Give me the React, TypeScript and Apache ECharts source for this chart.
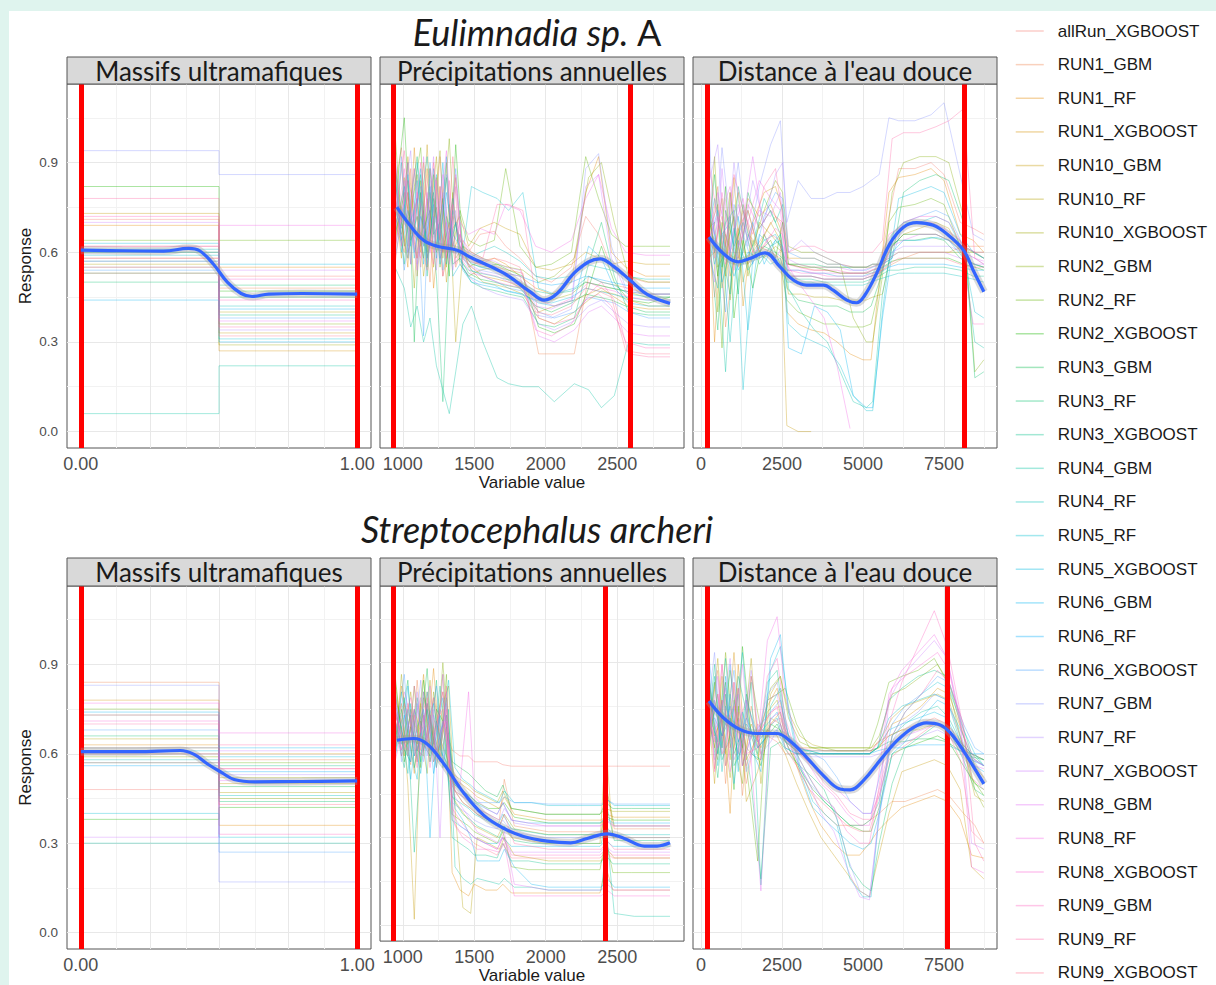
import React, { useEffect, useRef } from "react";
import * as echarts from "echarts";

// ---------- categories ----------
const RUNS = [
  "allRun_XGBOOST", "RUN1_GBM", "RUN1_RF", "RUN1_XGBOOST", "RUN10_GBM", "RUN10_RF", "RUN10_XGBOOST",
  "RUN2_GBM", "RUN2_RF", "RUN2_XGBOOST", "RUN3_GBM", "RUN3_RF", "RUN3_XGBOOST", "RUN4_GBM", "RUN4_RF",
  "RUN5_RF", "RUN5_XGBOOST", "RUN6_GBM", "RUN6_RF", "RUN6_XGBOOST", "RUN7_GBM", "RUN7_RF", "RUN7_XGBOOST",
  "RUN8_GBM", "RUN8_RF", "RUN8_XGBOOST", "RUN9_GBM", "RUN9_RF", "RUN9_XGBOOST",
];
const SPECIES = ["Eulimnadia sp.", "Streptocephalus archeri"];
const VARIABLES = ["Massifs ultramafiques", "Précipitations annuelles", "Distance à l'eau douce"];

// ---------- Massifs ultramafiques (binary variable) ----------
const massifX = [0, 0.5, 1];
const massifLeftA = [.71, .62, .69, .58, .73, .56, .55, .60, .64, .82, .53, .50, .57, .06, .61, .59, .63, .44, .60, .54, .94, .57, .70, .55, .62, .58, .72, .78, .53];
const massifRightA = [.52, .48, .55, .27, .33, .40, .29, .36, .64, .47, .45, .49, .39, .22, .42, .31, .56, .30, .41, .38, .86, .34, .54, .37, .69, .51, .44, .35, .32];
const massifLeftS = [.48, .84, .63, .78, .73, .65, .60, .59, .75, .38, .62, .66, .57, .30, .58, .40, .61, .74, .56, .68, .83, .73, .32, .60, .77, .71, .62, .70, .57];
const massifRightS = [.55, .58, .36, .60, .50, .47, .52, .45, .57, .42, .49, .44, .56, .30, .46, .32, .59, .62, .54, .27, .17, .53, .61, .51, .67, .55, .33, .63, .43];
const massifSmoothXA = [0, .15, .3, .39, .43, .48, .53, .58, .62, .68, .8, 1];
const massifSmoothYA = [.607, .605, .604, .613, .605, .56, .50, .462, .452, .46, .462, .46];
const massifSmoothXS = [0, .2, .36, .41, .46, .51, .555, .63, .8, 1];
const massifSmoothYS = [.607, .607, .611, .598, .565, .537, .514, .506, .507, .509];

// ---------- Précipitations annuelles ----------
// even-numbered runs are sampled on the first x list, odd-numbered runs on the second
const precXA = [945, 990, 1035, 1080, 1125, 1170, 1215, 1260, 1305, 1350, 1400, 1460, 1540, 1640, 1720, 1820, 1930, 2040, 2180, 2280, 2370, 2460, 2560, 2700, 2870];
const precXA2 = [945, 1010, 1055, 1100, 1145, 1190, 1235, 1280, 1325, 1370, 1420, 1480, 1560, 1660, 1740, 1840, 1950, 2060, 2200, 2300, 2390, 2480, 2580, 2720, 2870];
const precRunsA = [
  [.82, .95, .62, .88, .55, .78, .66, .92, .58, .72, .64, .60, .66, .67, .62, .58, .52, .50, .55, .72, .66, .55, .52, .50, .50],
  [.70, .60, .88, .52, .74, .50, .85, .60, .70, .55, .62, .58, .56, .55, .54, .53, .26, .26, .26, .52, .50, .49, .48, .46, .46],
  [.90, .72, .55, .95, .62, .88, .48, .70, .90, .60, .66, .55, .57, .58, .56, .52, .48, .46, .50, .80, .92, .60, .55, .52, .52],
  [.64, .80, .70, .58, .90, .66, .75, .52, .62, .85, .58, .55, .52, .51, .50, .48, .40, .42, .44, .46, .48, .45, .42, .41, .41],
  [.78, .58, .92, .70, .60, .96, .55, .82, .50, .68, .72, .62, .68, .70, .68, .66, .55, .54, .56, .60, .58, .56, .57, .56, .56],
  [.60, .85, .66, .78, .52, .70, .92, .58, .76, .30, .60, .54, .50, .49, .48, .46, .38, .36, .40, .44, .47, .46, .44, .42, .42],
  [.72, .66, .80, .48, .84, .58, .70, .94, .55, .80, .56, .52, .54, .55, .52, .50, .45, .44, .46, .50, .49, .48, .47, .45, .45],
  [.88, .62, .74, .86, .64, .80, .60, .72, .98, .58, .62, .60, .58, .56, .55, .54, .50, .52, .58, .85, .90, .70, .52, .50, .50],
  [1.0, .70, .58, .82, .95, .60, .86, .55, .72, .62, .74, .64, .62, .64, .88, .62, .55, .56, .60, .92, .78, .66, .62, .62, .62],
  [.76, 1.05, .64, .72, .58, .88, .62, .78, .52, .96, .60, .56, .55, .56, .54, .52, .35, .33, .36, .48, .62, .50, .44, .43, .45],
  [.66, .74, .90, .30, .80, .55, .78, .64, .85, .56, .58, .53, .51, .50, .49, .48, .42, .40, .43, .46, .45, .44, .42, .40, .40],
  [.85, .56, .78, .92, .68, .74, .52, .10, .60, .70, .55, .50, .48, .47, .46, .45, .36, .35, .38, .56, .70, .52, .40, .39, .39],
  [.62, .90, .60, .68, .86, .52, .80, .58, .66, .78, .57, .54, .53, .52, .51, .50, .47, .46, .47, .50, .49, .48, .47, .46, .46],
  [.55, .48, .35, .42, .30, .38, .22, .14, .06, .20, .36, .42, .30, .18, .16, .15, .15, .10, .16, .14, .08, .12, .30, .29, .29],
  [.80, .64, .84, .58, .76, .92, .66, .70, .56, .74, .64, .58, .60, .62, .60, .57, .52, .51, .52, .56, .55, .54, .52, .51, .51],
  [.68, .82, .56, .90, .62, .72, .86, .54, .68, .60, .60, .82, .80, .78, .74, .80, .48, .46, .48, .52, .50, .49, .46, .45, .45],
  [.92, .60, .74, .66, .88, .58, .76, .62, .92, .52, .56, .52, .50, .49, .47, .46, .44, .43, .45, .48, .47, .46, .45, .44, .44],
  [.58, .76, .62, .84, .56, .82, .58, .90, .60, .70, .54, .50, .49, .48, .47, .46, .43, .42, .44, .62, .58, .48, .43, .42, .42],
  [.74, .68, .86, .60, .72, .64, .88, .56, .80, .66, .62, .57, .55, .54, .53, .52, .50, .49, .50, .52, .51, .50, .49, .48, .48],
  [.86, .54, .70, .78, .32, .90, .62, .76, .58, .88, .58, .54, .52, .50, .48, .47, .40, .38, .40, .45, .44, .43, .40, .38, .38],
  [.70, .92, .58, .74, .82, .56, .72, .66, .86, .60, .60, .56, .54, .53, .52, .50, .39, .38, .41, .88, .93, .62, .48, .46, .46],
  [.62, .78, .94, .56, .70, .84, .54, .80, .62, .74, .55, .51, .48, .46, .45, .44, .36, .34, .37, .42, .44, .40, .36, .35, .35],
  [.94, .66, .60, .88, .64, .70, .92, .58, .70, .54, .66, .60, .58, .57, .55, .54, .42, .41, .44, .82, .86, .58, .47, .46, .46],
  [.60, .84, .72, .54, .92, .62, .68, .86, .56, .82, .58, .55, .53, .52, .50, .49, .32, .30, .34, .40, .42, .38, .33, .32, .32],
  [.78, .70, .90, .64, .58, .80, .60, .74, .94, .62, .70, .66, .68, .66, .76, .74, .62, .60, .64, .78, .86, .68, .60, .59, .59],
  [.66, .88, .56, .80, .72, .60, .84, .52, .66, .86, .57, .53, .52, .50, .49, .48, .44, .42, .45, .50, .48, .47, .45, .44, .44],
  [.84, .62, .80, .70, .90, .66, .56, .82, .60, .76, .62, .58, .56, .55, .53, .52, .34, .32, .36, .44, .46, .42, .30, .28, .28],
  [.72, .94, .66, .58, .76, .88, .70, .60, .84, .56, .64, .60, .58, .76, .76, .74, .38, .36, .38, .46, .50, .44, .26, .25, .25],
  [.56, .72, .84, .76, .62, .54, .90, .68, .58, .92, .60, .57, .56, .58, .57, .55, .40, .39, .42, .48, .47, .45, .27, .26, .26],
];
const precSmoothXA = [958, 1050, 1145, 1240, 1380, 1470, 1710, 1890, 1990, 2080, 2220, 2380, 2480, 2590, 2710, 2870];
const precSmoothYA = [.751, .69, .64, .62, .607, .584, .529, .468, .44, .462, .54, .578, .551, .507, .459, .429];

const precXS = [945, 990, 1035, 1080, 1125, 1170, 1215, 1260, 1305, 1345, 1400, 1460, 1500, 1580, 1660, 1700, 1760, 1880, 2000, 2200, 2380, 2420, 2470, 2600, 2870];
const precXS2 = [945, 1010, 1055, 1100, 1145, 1190, 1235, 1280, 1320, 1365, 1420, 1475, 1520, 1600, 1675, 1710, 1780, 1900, 2020, 2220, 2390, 2430, 2480, 2620, 2870];
const precRunsS = [
  [.70, .60, .76, .58, .68, .80, .62, .74, .66, .60, .58, .58, .56, .56, .56, .55, .545, .545, .545, .545, .545, .545, .545, .545, .545],
  [.78, .66, .55, .84, .60, .72, .58, .86, .50, .46, .44, .42, .40, .38, .36, .50, .34, .33, .32, .32, .32, .45, .33, .33, .33],
  [.62, .82, .70, .52, .76, .64, .88, .60, .72, .18, .12, .10, .14, .12, .12, .14, .11, .11, .11, .11, .11, .20, .12, .12, .12],
  [.84, .58, .74, .66, .86, .56, .70, .80, .62, .50, .48, .46, .44, .42, .40, .44, .38, .37, .36, .36, .36, .38, .37, .37, .37],
  [.66, .76, .48, .02, .70, .62, .78, .56, .68, .44, .40, .36, .34, .32, .30, .34, .30, .29, .28, .28, .28, .63, .30, .30, .30],
  [.72, .64, .80, .60, .58, .84, .54, .76, .82, .40, .06, .04, .30, .28, .26, .30, .24, .23, .22, .22, .22, .26, .23, .23, .23],
  [.58, .86, .62, .74, .66, .52, .80, .64, .58, .52, .50, .48, .46, .44, .42, .46, .40, .39, .38, .38, .38, .40, .39, .39, .39],
  [.80, .62, .72, .56, .78, .70, .60, .90, .64, .46, .42, .40, .38, .36, .34, .38, .33, .32, .31, .31, .31, .46, .34, .34, .34],
  [.64, .74, .58, .82, .54, .76, .66, .58, .86, .38, .36, .34, .32, .30, .28, .32, .20, .19, .19, .19, .19, .30, .18, .18, .18],
  [.86, .56, .68, .62, .84, .60, .74, .70, .52, .48, .46, .44, .42, .40, .40, .42, .37, .36, .35, .35, .35, .37, .36, .36, .36],
  [.60, .70, .84, .54, .66, .88, .56, .62, .78, .56, .54, .52, .50, .46, .44, .48, .40, .39, .38, .38, .38, .42, .40, .40, .40],
  [.74, .60, .56, .78, .62, .58, .84, .54, .66, .42, .38, .36, .34, .32, .30, .34, .29, .28, .28, .28, .28, .40, .29, .29, .29],
  [.56, .80, .66, .25, .58, .74, .62, .82, .60, .30, .28, .26, .24, .24, .23, .28, .22, .22, .21, .21, .21, .24, .21, .21, .21],
  [.68, .54, .76, .60, .72, .56, .70, .58, .74, .20, .16, .14, .16, .15, .14, .16, .13, .13, .12, .12, .12, .30, .04, .03, .03],
  [.76, .68, .52, .74, .56, .80, .60, .72, .54, .44, .42, .40, .38, .36, .34, .38, .33, .32, .31, .31, .31, .34, .31, .31, .31],
  [.62, .78, .60, .50, .80, .66, .54, .68, .84, .54, .50, .48, .46, .44, .42, .46, .42, .42, .41, .41, .41, .43, .41, .41, .41],
  [.82, .58, .74, .64, .52, .70, .76, .60, .56, .36, .34, .32, .30, .28, .28, .30, .27, .27, .27, .27, .27, .29, .27, .27, .27],
  [.58, .72, .50, .68, .74, .30, .66, .78, .62, .40, .36, .30, .22, .22, .22, .26, .20, .14, .13, .13, .13, .16, .13, .13, .13],
  [.70, .62, .82, .58, .64, .76, .52, .66, .72, .50, .46, .44, .42, .40, .38, .42, .36, .35, .35, .35, .35, .37, .35, .35, .35],
  [.64, .86, .56, .76, .60, .68, .82, .56, .64, .48, .46, .44, .42, .42, .42, .44, .42, .42, .415, .415, .415, .43, .415, .415, .415],
  [.78, .56, .70, .62, .84, .58, .72, .64, .76, .42, .40, .38, .36, .34, .33, .36, .32, .31, .30, .30, .30, .33, .30, .30, .30],
  [.60, .74, .64, .80, .56, .72, .60, .86, .52, .46, .44, .42, .40, .38, .36, .40, .35, .34, .34, .34, .34, .36, .34, .34, .34],
  [.72, .66, .58, .70, .78, .62, .74, .30, .80, .38, .34, .32, .30, .28, .26, .30, .25, .25, .25, .25, .25, .27, .25, .25, .25],
  [.66, .80, .72, .56, .68, .82, .58, .70, .60, .44, .40, .36, .32, .30, .28, .32, .14, .13, .12, .12, .12, .14, .12, .12, .12],
  [.80, .60, .68, .74, .58, .64, .78, .66, .70, .52, .48, .80, .44, .40, .38, .42, .36, .35, .34, .34, .34, .36, .34, .34, .34],
  [.56, .70, .78, .60, .72, .54, .68, .80, .58, .34, .30, .28, .26, .26, .25, .28, .10, .10, .10, .10, .10, .12, .10, .10, .10],
  [.74, .64, .60, .82, .66, .76, .56, .62, .74, .40, .36, .32, .30, .28, .26, .30, .24, .24, .24, .24, .24, .26, .24, .24, .24],
  [.62, .76, .70, .54, .80, .60, .70, .74, .56, .46, .42, .40, .38, .36, .34, .38, .28, .27, .26, .26, .26, .29, .26, .26, .26],
  [.76, .58, .64, .72, .60, .78, .62, .56, .82, .36, .32, .30, .28, .26, .24, .28, .23, .23, .23, .23, .23, .25, .23, .23, .23],
];
const precSmoothXS = [958, 1075, 1170, 1285, 1425, 1565, 1705, 1845, 2010, 2175, 2290, 2430, 2550, 2690, 2780, 2870];
const precSmoothYS = [.634, .64, .621, .554, .454, .377, .332, .304, .288, .282, .297, .313, .297, .271, .271, .282];

// ---------- Distance à l'eau douce ----------
const distXA = [220, 420, 650, 900, 1150, 1450, 1800, 2150, 2450, 2650, 3000, 3400, 3800, 4200, 4600, 5000, 5250, 5500, 5800, 6100, 6600, 7100, 7500, 8000, 8400, 8730];
const distXA2 = [220, 520, 760, 1020, 1300, 1600, 1950, 2300, 2520, 2700, 3100, 3500, 3900, 4300, 4700, 5100, 5300, 5600, 5900, 6250, 6750, 7250, 7650, 8100, 8450, 8730];
const distRunsA = [
  [.70, .45, .62, .80, .55, .66, .62, .60, .58, .52, .52, .52, .51, .51, .51, .51, .52, .53, .72, .88, .88, .90, .86, .70, .68, .66],
  [.62, .82, .35, .58, .74, .60, .66, .72, .70, .56, .55, .54, .54, .53, .53, .53, .53, .54, .56, .58, .60, .60, .60, .62, .62, .62],
  [.80, .30, .70, .52, .62, .78, .72, .76, .68, .40, .36, .34, .33, .30, .26, .24, .24, .50, .80, .85, .86, .88, .84, .66, .64, .60],
  [.66, .76, .52, .85, .42, .70, .80, .82, .74, .58, .58, .58, .56, .56, .55, .55, .56, .56, .62, .66, .66, .66, .64, .62, .60, .58],
  [.58, .60, .78, .44, .68, .56, .62, .70, .64, .02, .00, .00, null, null, null, null, null, null, null, null, null, null, null, null, null, null],
  [.74, .55, .60, .72, .50, .64, .58, .62, .60, .46, .46, .45, .45, .44, .44, .44, .45, .46, .62, .66, .68, .70, .68, .58, .56, .55],
  [.60, .92, .48, .66, .80, .52, .70, .66, .62, .56, .56, .55, .55, .55, .55, .55, .55, .56, .58, .60, .60, .60, .60, .60, .60, .60],
  [.84, .40, .66, .56, .76, .62, .74, .84, .80, .62, .60, .60, .58, .56, .38, .30, .30, .52, .80, .90, .92, .92, .90, .72, .20, .24],
  [.68, .70, .28, .80, .58, .74, .60, .64, .56, .44, .40, .38, .36, .36, .35, .35, .36, .48, .70, .75, .76, .78, .76, .62, .60, .58],
  [.76, .52, .82, .38, .64, .48, .66, .58, .70, .56, .55, .55, .54, .53, .53, .53, .54, .55, .57, .58, .58, .58, .58, .56, .55, .54],
  [.64, .86, .55, .72, .46, .80, .68, .74, .66, .48, .44, .43, .42, .42, .40, .40, .42, .50, .62, .64, .64, .65, .64, .58, .56, .55],
  [.70, .34, .74, .62, .70, .58, .62, .60, .58, .56, .56, .56, .55, .55, .55, .55, .56, .56, .58, .80, .84, .86, .84, .70, .18, .20],
  [.56, .64, .60, .46, .82, .66, .56, .62, .64, .52, .51, .51, .50, .50, .50, .50, .51, .52, .54, .54, .55, .55, .55, .54, .52, .52],
  [.72, .58, .20, .68, .56, .62, .78, .70, .76, .48, .40, .34, .30, .20, .10, .08, .10, .46, .62, .66, .66, .66, .64, .60, .30, .28],
  [.66, .78, .62, .30, .64, .54, .60, .56, .58, .50, .50, .50, .49, .49, .49, .49, .50, .51, .52, .53, .53, .53, .53, .52, .51, .50],
  [.60, .48, .70, .74, .14, .58, .64, .66, .60, .36, .32, .30, .28, .22, .12, .07, .07, .40, .66, .70, .70, .72, .70, .60, .40, .38],
  [.78, .66, .50, .60, .72, .34, .66, .62, .66, .54, .54, .53, .53, .52, .52, .52, .53, .54, .56, .78, .80, .82, .80, .66, .60, .58],
  [.62, .74, .60, .52, .60, .70, .56, .64, .62, .28, .26, .42, .40, .34, .12, .08, .08, .38, .60, .64, .64, .65, .64, .58, .56, .55],
  [.68, .56, .66, .70, .54, .60, .58, .60, .56, .52, .52, .52, .51, .51, .51, .51, .52, .53, .55, .56, .56, .56, .56, .55, .54, .54],
  [.74, .62, .40, .76, .66, .56, .72, .80, .78, .60, .58, .58, .56, .56, .54, .54, .55, .56, .58, .70, .72, .74, .72, .62, .60, .58],
  [1.10, .60, .95, .70, .90, .62, .82, .96, 1.04, .70, .84, .78, .78, .80, .80, .82, .84, .86, 1.05, 1.04, 1.04, 1.06, 1.10, .86, .66, .64],
  [.82, .96, .58, .90, .64, .84, .70, .86, .90, .60, .64, .60, .58, .56, .55, .55, .56, .56, .60, .62, .62, .62, .62, .60, .58, .56],
  [.66, .50, .88, .60, .76, .64, .74, .72, .80, .58, .56, .55, .55, .55, .54, .54, .55, .56, .58, .60, .60, .60, .60, .58, .56, .56],
  [.58, .80, .66, .54, .70, .92, .66, .58, .62, .54, .54, .53, .53, .53, .53, .53, .54, .55, .62, .64, .66, .66, .64, .60, .58, .57],
  [.86, .66, .74, .82, .62, .70, .84, .78, .74, .56, .50, .44, .38, .22, .01, null, null, null, null, null, null, null, null, null, null, null],
  [.64, .72, .56, .68, .78, .60, .62, .68, .66, .54, .53, .53, .52, .52, .52, .52, .53, .54, .64, .70, .72, .72, .70, .62, .60, .60],
  [.70, .58, .80, .62, .58, .76, .68, .74, .70, .56, .55, .54, .54, .54, .53, .53, .54, .55, .66, .68, .70, .70, .68, .64, .36, .36],
  [.92, .70, .62, .86, .74, .66, .82, .88, .72, .60, .62, .62, .60, .60, .60, .60, .60, .64, .98, 1.00, 1.00, 1.02, 1.04, 1.08, .58, .56],
  [.76, .62, .72, .58, .68, .74, .60, .66, .64, .52, .52, .52, .51, .51, .51, .51, .52, .53, .56, .58, .58, .58, .58, .56, .55, .55],
];
const distSmoothXA = [250, 690, 1150, 1510, 1980, 2440, 2850, 3260, 3780, 4080, 4500, 4800, 5060, 5420, 5830, 6250, 6660, 7170, 7580, 8100, 8400, 8730];
const distSmoothYA = [.651, .596, .568, .579, .598, .551, .507, .49, .49, .473, .44, .431, .457, .529, .629, .684, .699, .69, .662, .607, .54, .468];

const distXS = [220, 420, 650, 900, 1150, 1400, 1750, 2050, 2350, 2600, 2950, 3350, 3700, 4100, 4500, 4900, 5200, 5450, 5800, 6200, 6700, 7200, 7600, 8000, 8350, 8730];
const distXS2 = [220, 520, 760, 1020, 1280, 1550, 1850, 2150, 2450, 2700, 3050, 3450, 3800, 4200, 4600, 5000, 5250, 5500, 5900, 6300, 6800, 7300, 7650, 8100, 8450, 8730];
const distRunsS = [
  [.80, .55, .90, .62, .72, .50, .70, .66, .64, .60, .60, .60, .60, .60, .60, .60, .60, .64, .66, .68, .70, .72, .70, .64, .60, .58],
  [.70, .88, .50, .84, .46, .76, .60, .72, .70, .62, .54, .46, .40, .36, .36, .36, .38, .40, .44, .44, .46, .48, .46, .40, .36, .30],
  [.92, .62, .78, .40, .90, .58, .66, .76, .82, .70, .56, .44, .36, .30, .26, .26, .30, .34, .38, .42, .44, .46, .44, .38, .26, .25],
  [.64, .80, .60, .94, .56, .70, .62, .70, .74, .64, .62, .62, .61, .61, .61, .61, .61, .62, .70, .72, .76, .82, .80, .66, .56, .52],
  [.76, .50, .86, .58, .82, .44, .54, .68, .66, .60, .50, .40, .32, .26, .20, .14, .12, .24, .40, .54, .56, .58, .56, .48, .22, .18],
  [.60, .92, .56, .78, .62, .92, .50, .80, .86, .74, .66, .63, .62, .62, .62, .62, .62, .64, .72, .76, .78, .80, .78, .62, .46, .44],
  [.84, .66, .72, .52, .76, .62, .58, .74, .78, .66, .60, .60, .60, .60, .60, .60, .60, .62, .66, .68, .68, .70, .68, .62, .60, .58],
  [.72, .58, .94, .64, .50, .86, .68, .82, .86, .72, .64, .62, .62, .61, .61, .61, .62, .66, .80, .82, .86, .90, .84, .66, .48, .42],
  [.66, .84, .62, .88, .70, .56, .24, .78, .80, .82, .70, .62, .62, .62, .62, .62, .62, .70, .84, .86, .88, .92, .84, .66, .52, .46],
  [.88, .60, .84, .48, .96, .66, .56, .70, .68, .62, .55, .48, .44, .40, .36, .34, .34, .42, .60, .62, .64, .66, .64, .56, .50, .48],
  [.58, .76, .66, .72, .60, .80, .62, .66, .70, .64, .61, .61, .61, .61, .61, .61, .61, .62, .64, .64, .65, .65, .64, .61, .59, .58],
  [.78, .52, .80, .60, .68, .50, .18, .62, .64, .60, .56, .52, .48, .38, .22, .16, .14, .30, .50, .62, .66, .70, .68, .58, .48, .46],
  [.68, .90, .58, .66, .86, .74, .60, .84, .88, .68, .62, .61, .60, .60, .60, .60, .60, .62, .78, .82, .86, .88, .86, .72, .60, .56],
  [.74, .64, .92, .56, .62, .84, .16, .76, .82, .66, .58, .50, .44, .40, .36, .36, .38, .44, .66, .70, .74, .76, .72, .62, .58, .56],
  [.62, .86, .54, .80, .58, .70, .64, .68, .72, .62, .60, .60, .60, .60, .60, .60, .60, .62, .72, .76, .78, .80, .78, .64, .60, .58],
  [.90, .56, .76, .68, .94, .60, .58, .88, .96, .76, .56, .44, .40, .36, .18, .12, .12, .40, .66, .74, .80, .84, .82, .68, .60, .56],
  [.66, .78, .62, .90, .54, .78, .66, .70, .74, .64, .62, .61, .60, .60, .60, .60, .60, .62, .68, .70, .72, .74, .72, .62, .58, .56],
  [.86, .60, .86, .50, .74, .62, .54, .92, 1.00, .74, .54, .42, .38, .34, .30, .28, .30, .40, .60, .64, .72, .78, .76, .66, .56, .54],
  [.70, .72, .66, .76, .64, .72, .62, .66, .68, .62, .60, .60, .60, .60, .60, .60, .60, .61, .62, .62, .63, .63, .63, .61, .60, .60],
  [.96, .62, .70, .88, .56, .66, .70, .74, .78, .66, .62, .60, .58, .52, .44, .40, .40, .52, .70, .76, .80, .86, .84, .70, .62, .60],
  [.76, .94, .60, .72, .80, .54, .66, .80, .84, .70, .58, .50, .46, .42, .26, .14, .12, .34, .62, .70, .74, .80, .78, .66, .58, .56],
  [.64, .70, .82, .58, .66, .88, .60, .64, .70, .62, .60, .59, .59, .59, .59, .59, .59, .60, .62, .64, .66, .68, .66, .60, .58, .56],
  [.82, .58, .74, .92, .60, .68, .62, .78, .80, .66, .58, .50, .40, .34, .22, .12, .11, .36, .78, .86, .92, .98, .92, .72, .30, .28],
  [.62, .86, .56, .66, .90, .58, .14, .72, .74, .64, .60, .56, .52, .48, .44, .40, .40, .46, .64, .66, .68, .70, .68, .60, .56, .55],
  [.74, .64, .90, .54, .70, .78, .64, .98, 1.06, .80, .64, .56, .50, .46, .40, .36, .36, .50, .80, .88, .94, 1.00, .92, .70, .22, .20],
  [.68, .80, .62, .84, .56, .66, .68, .74, .76, .64, .62, .61, .61, .61, .61, .61, .61, .64, .82, .86, .90, .94, .88, .66, .58, .56],
  [.90, .54, .78, .66, .82, .60, .62, .86, .92, .72, .60, .52, .46, .42, .34, .30, .30, .46, .70, .84, .96, 1.08, .96, .74, .52, .48],
  [.72, .62, .70, .76, .60, .86, .58, .70, .72, .64, .60, .56, .50, .46, .40, .38, .38, .48, .66, .74, .80, .88, .84, .70, .30, .24],
  [.80, .70, .60, .64, .74, .56, .66, .72, .76, .62, .56, .48, .44, .40, .36, .34, .34, .44, .58, .62, .66, .70, .68, .58, .34, .30],
];
const distSmoothXS = [250, 690, 1200, 1720, 2340, 2750, 3260, 3780, 4290, 4600, 5010, 5520, 6040, 6550, 6960, 7380, 7690, 8100, 8730];
const distSmoothYS = [.777, .721, .682, .668, .668, .643, .588, .527, .482, .479, .51, .577, .643, .688, .704, .697, .671, .61, .499];

// ---------- red cut-off lines ----------
const cutMassifA = [0, 1];
const cutPrecA = [930, 2590];
const cutDistA = [185, 8117];
const cutMassifS = [0, 1];
const cutPrecS = [935, 2420];
const cutDistS = [195, 7613];

// ---------- tick labels ----------
const massifTicks = [0, 0.25, 0.5, 0.75, 1];
const massifLabels = [0, 1];
const precTicks = [1000, 1500, 2000, 2500];
const distTicks = [0, 2500, 5000, 7500];
const yTicks = [0, 0.3, 0.6, 0.9];

// ---------- colours (ggplot hue palette) ----------
function hclToHex(h: number, c: number, l: number) {
  const hr = (h * Math.PI) / 180;
  const U = c * Math.cos(hr), V = c * Math.sin(hr);
  const Xn = 95.047, Yn = 100, Zn = 108.883;
  const den = Xn + 15 * Yn + 3 * Zn;
  const un = (4 * Xn) / den, vn = (9 * Yn) / den;
  const Y = l > 8 ? Yn * Math.pow((l + 16) / 116, 3) : (Yn * l) / 903.3;
  const up = U / (13 * l) + un, vp = V / (13 * l) + vn;
  const X = (Y * 9 * up) / (4 * vp);
  const Z = (Y * (12 - 3 * up - 20 * vp)) / (4 * vp);
  const x = X / 100, y = Y / 100, z = Z / 100;
  const r = 3.2404542 * x - 1.5371385 * y - 0.4985314 * z;
  const g = -0.969266 * x + 1.8760108 * y + 0.041556 * z;
  const b = 0.0556434 * x - 0.2040259 * y + 1.0572252 * z;
  const gam = (v: number) => {
    const t = v <= 0.0031308 ? 12.92 * v : 1.055 * Math.pow(v, 1 / 2.4) - 0.055;
    return Math.round(Math.max(0, Math.min(1, t)) * 255);
  };
  return "#" + [r, g, b].map((v) => gam(v).toString(16).padStart(2, "0")).join("");
}
const PALETTE = RUNS.map((_, i) => hclToHex(15 + (i * 360) / RUNS.length, 100, 65));

const FONT = "Liberation Sans";
const STRIP_FONT = "Lato";

export default function App() {
  const ref = useRef<HTMLDivElement>(null);
  useEffect(() => {
    document.body.style.margin = "0";
    const chart = echarts.init(ref.current!, undefined, { renderer: "svg" });

    const colLeft = [67, 380, 693];
    const rowTop = [84, 586];
    const rowH = [364, 363];
    const W = 304;

    const massifRowsA = massifLeftA.map((a, i) => [a, massifRightA[i], massifRightA[i]]);
    const massifRowsS = massifLeftS.map((a, i) => [a, massifRightS[i], massifRightS[i]]);

    const panels = [
      { row: 0, col: 0, xs: [massifX, massifX], runs: massifRowsA, sx: massifSmoothXA, sy: massifSmoothYA, cut: cutMassifA, kind: "m" },
      { row: 0, col: 1, xs: [precXA, precXA2], runs: precRunsA, sx: precSmoothXA, sy: precSmoothYA, cut: cutPrecA, kind: "p" },
      { row: 0, col: 2, xs: [distXA, distXA2], runs: distRunsA, sx: distSmoothXA, sy: distSmoothYA, cut: cutDistA, kind: "d" },
      { row: 1, col: 0, xs: [massifX, massifX], runs: massifRowsS, sx: massifSmoothXS, sy: massifSmoothYS, cut: cutMassifS, kind: "m" },
      { row: 1, col: 1, xs: [precXS, precXS2], runs: precRunsS, sx: precSmoothXS, sy: precSmoothYS, cut: cutPrecS, kind: "p" },
      { row: 1, col: 2, xs: [distXS, distXS2], runs: distRunsS, sx: distSmoothXS, sy: distSmoothYS, cut: cutDistS, kind: "d" },
    ];

    const axisCfg: any = {
      m: { min: -0.05, max: 1.05, ticks: massifTicks, labels: massifLabels, fmt: (v: number) => v.toFixed(2), major: [0, 0.25, 0.5, 0.75, 1], minor: [0.125, 0.375, 0.625, 0.875] },
      p: { min: 840, max: 2968, ticks: precTicks, labels: precTicks, fmt: (v: number) => String(v), major: [1000, 1500, 2000, 2500], minor: [1250, 1750, 2250, 2750] },
      d: { min: -245, max: 9135, ticks: distTicks, labels: distTicks, fmt: (v: number) => String(v), major: [0, 2500, 5000, 7500], minor: [1250, 3750, 6250, 8750] },
    };
    const yMajor = [0, 0.3, 0.6, 0.9];
    const yMinor = [0.15, 0.45, 0.75, 1.05];

    const grid: any[] = [];
    const xAxis: any[] = [];
    const yAxis: any[] = [];
    const series: any[] = [];
    const graphic: any[] = [];

    panels.forEach((p, gi) => {
      const cfg = axisCfg[p.kind];
      grid.push({
        left: colLeft[p.col], top: rowTop[p.row], width: W, height: rowH[p.row],
        show: true, backgroundColor: "#ffffff", borderColor: "#555555", borderWidth: 1,
      });
      xAxis.push({
        type: "value", gridIndex: gi, min: cfg.min, max: cfg.max,
        axisLine: { show: false }, splitLine: { show: false },
        axisTick: { show: true, length: 4, lineStyle: { color: "#333" }, customValues: cfg.ticks },
        axisLabel: { customValues: cfg.labels, formatter: cfg.fmt, fontSize: 18, color: "#4d4d4d", fontFamily: FONT, margin: 7 },
        name: p.col === 1 ? "Variable value" : "",
        nameLocation: "middle", nameGap: 24,
        nameTextStyle: { fontSize: 17, color: "#1a1a1a", fontFamily: FONT },
      });
      const left = p.col === 0;
      yAxis.push({
        type: "value", gridIndex: gi, min: -0.055, max: 1.163,
        axisLine: { show: false }, splitLine: { show: false },
        axisTick: { show: left, length: 4, lineStyle: { color: "#333" }, customValues: yTicks },
        axisLabel: { show: left, customValues: yTicks, formatter: (v: number) => v.toFixed(1), fontSize: 13.5, color: "#4d4d4d", fontFamily: FONT, margin: 9 },
        name: left ? "Response" : "",
        nameLocation: "middle", nameGap: 33, nameRotate: 90,
        nameTextStyle: { fontSize: 17, color: "#1a1a1a", fontFamily: FONT },
      });

      // gridlines
      series.push({
        type: "line", xAxisIndex: gi, yAxisIndex: gi, data: [], silent: true, z: 1,
        markLine: {
          silent: true, symbol: ["none", "none"], z: 1, animation: false, label: { show: false },
          lineStyle: { type: "solid", color: "#e8e8e8", width: 1 },
          data: [
            ...cfg.minor.map((v: number) => ({ xAxis: v, lineStyle: { color: "#f2f2f2", width: 1, type: "solid" } })),
            ...yMinor.map((v) => ({ yAxis: v, lineStyle: { color: "#f2f2f2", width: 1, type: "solid" } })),
            ...cfg.major.map((v: number) => ({ xAxis: v })),
            ...yMajor.map((v) => ({ yAxis: v })),
          ],
        },
      });

      // model runs
      p.runs.forEach((row: (number | null)[], i: number) => {
        const xs = p.xs[i % 2];
        series.push({
          type: "line", name: RUNS[i], xAxisIndex: gi, yAxisIndex: gi, z: 2, silent: true,
          symbol: "none", showSymbol: false, connectNulls: false,
          step: p.kind === "m" ? "end" : false,
          lineStyle: { color: PALETTE[i], width: 1, opacity: 0.36 },
          itemStyle: { color: PALETTE[i] },
          emphasis: { disabled: true },
          data: xs.map((x: number, j: number) => [x, row[j] == null ? "-" : row[j]]),
        });
      });

      // red cut-off lines
      series.push({
        type: "line", xAxisIndex: gi, yAxisIndex: gi, data: [], silent: true, z: 3,
        markLine: {
          silent: true, symbol: ["none", "none"], z: 3, animation: false, label: { show: false },
          lineStyle: { type: "solid", color: "#ff0000", width: 5 },
          data: p.cut.map((v: number) => ({ xAxis: v })),
        },
      });

      // smooth ribbon + smooth line
      const sdata = p.sx.map((x: number, j: number) => [x, p.sy[j]]);
      series.push({
        type: "line", xAxisIndex: gi, yAxisIndex: gi, z: 4, silent: true, symbol: "none", smooth: 0.4,
        lineStyle: { color: "#999999", width: 8, opacity: 0.35 }, data: sdata,
      });
      series.push({
        type: "line", xAxisIndex: gi, yAxisIndex: gi, z: 5, silent: true, symbol: "none", smooth: 0.4,
        lineStyle: { color: "#3366ff", width: 3.2 }, data: sdata,
      });

      // strip
      const sx = colLeft[p.col];
      const sTop = p.row === 0 ? 57 : 558;
      const sH = rowTop[p.row] - sTop;
      graphic.push({
        type: "rect", z: 10, shape: { x: sx, y: sTop, width: W, height: sH },
        style: { fill: "#d9d9d9", stroke: "#555555", lineWidth: 1 },
      });
      graphic.push({
        type: "text", z: 11, x: sx + W / 2, y: sTop + sH / 2,
        style: { text: VARIABLES[p.col], font: `26px ${STRIP_FONT}`, fill: "#1a1a1a", align: "center", verticalAlign: "middle" },
      });
    });

    graphic.push({
      type: "text", z: 11, x: 537, y: 32,
      style: {
        text: `{i|${SPECIES[0]} }{n|A}`, align: "center", verticalAlign: "middle",
        rich: {
          i: { fontFamily: STRIP_FONT, fontStyle: "italic", fontSize: 36, fill: "#1a1a1a", color: "#1a1a1a" },
          n: { fontFamily: STRIP_FONT, fontSize: 36, fill: "#1a1a1a", color: "#1a1a1a" },
        },
      },
    });
    graphic.push({
      type: "text", z: 11, x: 537, y: 529,
      style: { text: SPECIES[1], font: `italic 36px ${STRIP_FONT}`, fill: "#1a1a1a", align: "center", verticalAlign: "middle" },
    });

    chart.setOption({
      animation: false,
      backgroundColor: "transparent",
      grid, xAxis, yAxis, series, graphic,
      legend: {
        orient: "vertical", left: 1015, top: 22.5, padding: 0,
        itemWidth: 28, itemHeight: 17, itemGap: 16.64,
        selectedMode: false, data: RUNS,
        itemStyle: { opacity: 0 },
        lineStyle: { width: 1.5 },
        textStyle: { fontFamily: FONT, fontSize: 17, color: "#1a1a1a", lineHeight: 17, padding: [0, 0, 0, 9] },
      },
    });
    return () => chart.dispose();
  }, []);

  return (
    <div style={{ position: "relative", width: 1216, height: 985, background: "#dff4ee", overflow: "hidden" }}>
      <div style={{ position: "absolute", left: 9, top: 11, right: 0, bottom: 0, background: "#ffffff" }} />
      <div ref={ref} style={{ position: "absolute", left: 0, top: 0, width: 1216, height: 985 }} />
    </div>
  );
}
